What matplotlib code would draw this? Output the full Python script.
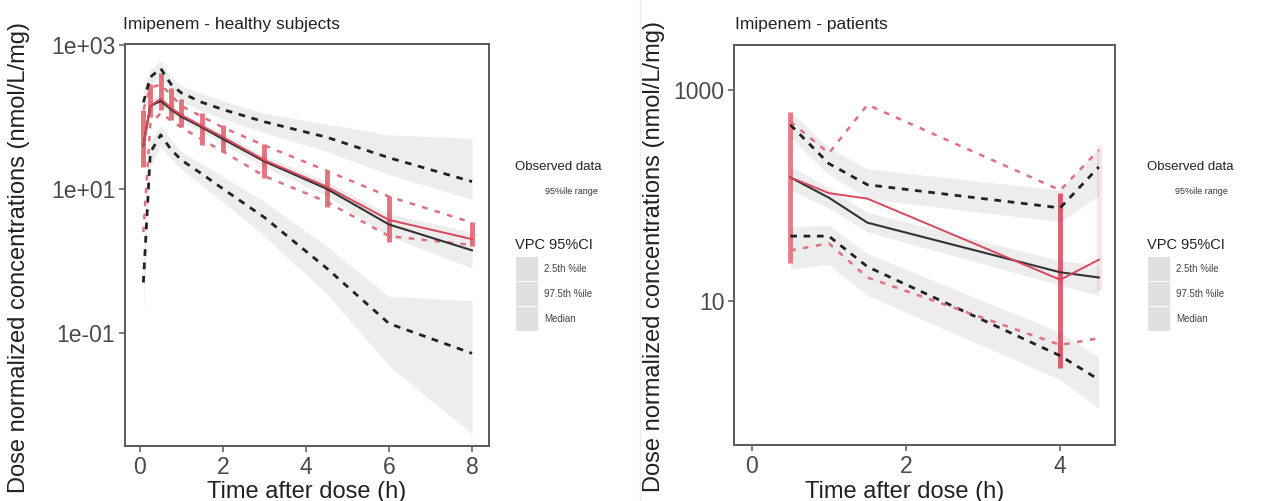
import numpy as np
import matplotlib
matplotlib.use("Agg")
import matplotlib.pyplot as plt
from matplotlib.patches import Rectangle
from matplotlib.lines import Line2D

plt.rcParams['font.family'] = ['Liberation Sans', 'DejaVu Sans']

# ==========================================
# data (nmol/L/mg)
# ==========================================
# healthy subjects
hs_time = [0.083, 0.25, 0.5, 0.75, 1, 1.5, 2, 3, 4.5, 6, 8]
hs_sim_hi = [158, 355, 468, 282, 214, 158, 126, 85, 52, 27, 12.6]
hs_sim_med = [40, 141, 166, 126, 100, 71, 49, 24, 10, 3.2, 1.4]
hs_sim_lo = [0.5, 32, 56, 35, 25, 16, 10, 4.0, 0.79, 0.135, 0.052]
hs_obs_hi = [126, 251, 282, 200, 141, 100, 71, 40, 17.8, 7.8, 3.4]
hs_obs_med = [40, 141, 178, 132, 105, 74, 52, 25, 10.7, 3.7, 2.0]
hs_obs_lo = [2.5, 79, 112, 89, 71, 48, 33, 15, 6.6, 2.2, 1.66]
hs_bar_time = [0.083, 0.25, 0.5, 0.75, 1, 1.5, 2, 3, 4.5, 6, 8]
hs_bar_min = [20, 100, 126, 91, 72, 41, 32, 14, 5.6, 1.8, 1.6]
hs_bar_max = [126, 282, 400, 251, 178, 112, 76, 42, 17.8, 7.9, 3.5]
hs_ci_hi_lo = [100, 282, 355, 224, 166, 120, 93, 60, 33, 15.8, 7.1]
hs_ci_hi_hi = [251, 447, 603, 355, 269, 209, 166, 112, 79, 56, 50]
hs_ci_med_lo = [25, 120, 145, 110, 87, 62, 42, 20, 7.9, 2.2, 0.79]
hs_ci_med_hi = [63, 166, 191, 145, 115, 81, 58, 29, 12.6, 4.5, 2.5]
hs_ci_lo_lo = [0.2, 20, 40, 26, 18.6, 11.2, 6.6, 2.2, 0.35, 0.035, 0.004]
hs_ci_lo_hi = [1.26, 45, 76, 48, 33, 22, 14.8, 6.6, 1.6, 0.32, 0.28]

# patients
pt_time = [0.5, 1.0, 1.5, 4.0, 4.5]
pt_sim_hi = [468, 200, 126, 76, 186]
pt_sim_med = [148, 95, 55, 18.6, 16.6]
pt_sim_lo = [41, 41, 21, 3.0, 1.78]
pt_obs_hi = [501, 251, 724, 112, 269]
pt_obs_med = [148, 105, 93, 15.8, 24.5]
pt_obs_lo = [30, 35, 16.6, 3.8, 4.4]
pt_bar_time = [0.5, 4.0, 4.5]
pt_bar_min = [23, 2.3, 12.6]
pt_bar_max = [617, 105, 302]
pt_bar_alpha = [0.6, 0.75, 0.12]
pt_ci_hi_lo = [355, 158, 93, 56, 100]
pt_ci_hi_hi = [631, 282, 178, 112, 282]
pt_ci_med_lo = [112, 76, 45, 14, 11.2]
pt_ci_med_hi = [191, 117, 69, 24, 22]
pt_ci_lo_lo = [20, 22, 11.2, 1.78, 0.95]
pt_ci_lo_hi = [50, 52, 28, 5.0, 2.9]

legend_items = ['2.5th %ile', '97.5th %ile', 'Median']

W, H = 1270, 501
BAND = '#e2e2e2'
RED = '#d8283a'
RED_DASH = '#e07080'
BLACK = '#222222'
AXIS_GREY = '#5a5a5a'


def px(x, y):
    return x / W, 1 - y / H


def style_axes(ax):
    for s in ax.spines.values():
        s.set_color(AXIS_GREY)
        s.set_linewidth(1.4)
    ax.tick_params(axis='both', which='major', direction='out', length=4,
                   width=1.1, color=AXIS_GREY, labelsize=16.5,
                   labelcolor='#4a4a4a', pad=3)
    ax.tick_params(axis='both', which='minor', length=0)


def draw_panel(ax, t, ci, sim, obs, bars):
    for lo, hi in ci:
        ax.fill_between(t, lo, hi, color=BAND, alpha=0.6, lw=0, zorder=1)
    bt, bmin, bmax, balpha = bars
    for x, a, b, al in zip(bt, bmin, bmax, balpha):
        ax.vlines(x, a, b, color=RED, lw=3.5, alpha=al, zorder=3)
    ax.plot(t, sim[0], color=BLACK, lw=2.0, dashes=(2.4, 2.4), zorder=4)
    ax.plot(t, sim[2], color=BLACK, lw=2.0, dashes=(2.4, 2.4), zorder=4)
    ax.plot(t, obs[0], color=RED_DASH, lw=1.8, dashes=(2.2, 3), zorder=4)
    ax.plot(t, obs[2], color=RED_DASH, lw=1.8, dashes=(2.2, 3), zorder=4)
    ax.plot(t, sim[1], color='#333333', lw=1.5, zorder=5)
    ax.plot(t, obs[1], color='#d9475a', lw=1.4, zorder=5)
    ax.set_yscale('log')
    style_axes(ax)


def draw_legend(fig, x0, x1, xkey):
    # x0: title start, x1: subtitle start, xkey: key left
    fig.text(*px(x0, 167), 'Observed data', fontsize=9.5, color='#222222',
             va='center', ha='left')
    fig.text(*px(x1, 192), '95%ile range', fontsize=6.5, color='#333333',
             va='center', ha='left')
    fig.text(*px(x0, 245), 'VPC 95%CI', fontsize=10.5, color='#222222',
             va='center', ha='left')
    for lab, yc in zip(legend_items, [269, 294, 319]):
        fig.patches.append(Rectangle(px(xkey, yc + 12), 22 / W, 24 / H,
                                     transform=fig.transFigure,
                                     facecolor='#e0e0e0', edgecolor='none'))
        fig.text(*px(xkey + 28, yc), lab, fontsize=7, color='#444444',
                 va='center', ha='left')


fig = plt.figure(figsize=(W / 100, H / 100), dpi=100)
fig.patch.set_facecolor('white')

YLAB = 'Dose normalized concentrations (nmol/L/mg)'
XLAB = 'Time after dose (h)'

# ---------- healthy subjects ----------
ax1 = fig.add_axes([125 / W, 55 / H, 364 / W, 402 / H])
draw_panel(
    ax1, hs_time,
    [(hs_ci_hi_lo, hs_ci_hi_hi), (hs_ci_med_lo, hs_ci_med_hi), (hs_ci_lo_lo, hs_ci_lo_hi)],
    (hs_sim_hi, hs_sim_med, hs_sim_lo),
    (hs_obs_hi, hs_obs_med, hs_obs_lo),
    (hs_bar_time, hs_bar_min, hs_bar_max, [0.65] * len(hs_bar_time)),
)
ax1.set_xlim(-0.36, 8.41)
ax1.set_ylim(10 ** -2.57, 10 ** 3.01)
ax1.set_xticks([0, 2, 4, 6, 8])
ax1.set_yticks([1e-1, 1e1, 1e3])
ax1.set_yticklabels(['1e-01', '1e+01', '1e+03'])
ax1.set_xlabel(XLAB, fontsize=17, color='#222222')
ax1.set_ylabel(YLAB, fontsize=17, color='#222222')
ax1.xaxis.set_label_coords(0.5, -0.086)
ax1.yaxis.set_label_coords(-0.262, 0.47)
fig.text(*px(123, 25), 'Imipenem - healthy subjects', fontsize=12.5,
         color='#222222', va='center', ha='left')
draw_legend(fig, 515, 545, 516)

# ---------- patients ----------
ax2 = fig.add_axes([734 / W, 56 / H, 381 / W, 400 / H])
draw_panel(
    ax2, pt_time,
    [(pt_ci_hi_lo, pt_ci_hi_hi), (pt_ci_med_lo, pt_ci_med_hi), (pt_ci_lo_lo, pt_ci_lo_hi)],
    (pt_sim_hi, pt_sim_med, pt_sim_lo),
    (pt_obs_hi, pt_obs_med, pt_obs_lo),
    (pt_bar_time, pt_bar_min, pt_bar_max, pt_bar_alpha),
)
ax2.set_xlim(-0.23, 4.71)
ax2.set_ylim(10 ** -0.37, 10 ** 3.427)
ax2.set_xticks([0, 2, 4])
ax2.set_yticks([10, 1000])
ax2.set_yticklabels(['10', '1000'])
ax2.set_xlabel(XLAB, fontsize=17, color='#222222')
ax2.set_ylabel(YLAB, fontsize=17, color='#222222')
ax2.xaxis.set_label_coords(0.449, -0.089)
ax2.yaxis.set_label_coords(-0.18, 0.47)
fig.text(*px(735, 25), 'Imipenem - patients', fontsize=12.5,
         color='#222222', va='center', ha='left')
draw_legend(fig, 1147, 1175, 1148)

# faint seam between the two panels
fig.lines.append(Line2D([640 / W, 640 / W], [0, 1], transform=fig.transFigure,
                        color='#ececec', lw=1))

fig.savefig('out.png', dpi=100, facecolor='white')
